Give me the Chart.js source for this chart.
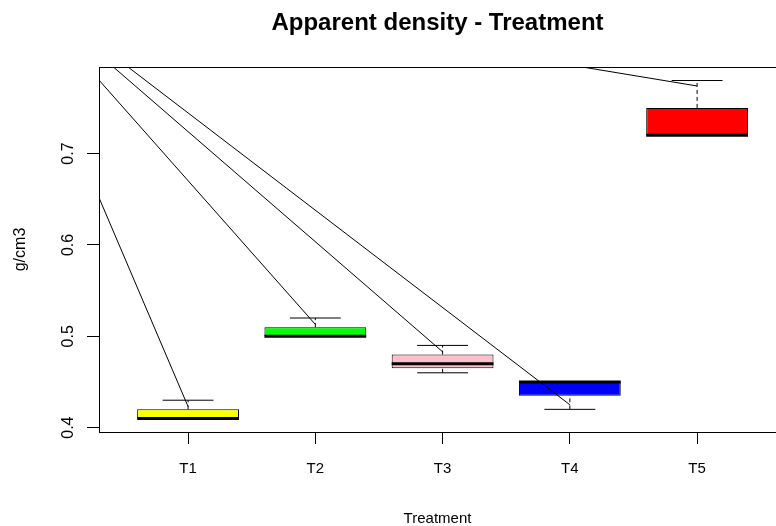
<!DOCTYPE html>
<html>
<head>
<meta charset="utf-8">
<script src="https://cdn.jsdelivr.net/npm/chart.js@4"></script>
<style>
  html, body { margin: 0; padding: 0; background: #ffffff; }
  #wrap { width: 776px; height: 526px; }
</style>
</head>
<body>
<div id="wrap"><canvas id="c" width="776" height="526" style="width:776px;height:526px"></canvas></div>
<script>
// ---- data ----
const categories     = ['T1', 'T2', 'T3', 'T4', 'T5'];
const lowerWhisker   = [0.41, 0.50, 0.46, 0.42, 0.72];
const lowerQuartile  = [0.41, 0.50, 0.465, 0.435, 0.72];
const medians        = [0.41, 0.50, 0.47, 0.45, 0.72];
const upperQuartile  = [0.42, 0.51, 0.48, 0.45, 0.75];
const upperWhisker   = [0.43, 0.52, 0.49, 0.45, 0.78];
const pointerEnds    = [0.423, 0.513, 0.483, 0.425, 0.774];
const pointerOriginX = -0.46;
const pointerOriginY = 0.90;
const yTickValues    = [0.4, 0.5, 0.6, 0.7];

// ---- styles ----
const boxColors = ['#FFFF00', '#00FF00', '#FFC0CB', '#0000FF', '#FF0000'];
const BOX_HALF = 0.4, CAP_HALF = 0.2;
const FONT = 'Liberation Sans, Arial, sans-serif';

const pos = categories.map((c, i) => i + 1);

const datasets = [];

// boxes (floating bars)
datasets.push({
  type: 'bar',
  data: pos.map((x, i) => ({ x: x, y: [lowerQuartile[i], upperQuartile[i]] })),
  backgroundColor: boxColors,
  borderColor: '#000000',
  borderWidth: 1,
  borderSkipped: false,
  categoryPercentage: 1.0,
  barPercentage: 0.8,
  order: 3
});

// whiskers (dashed) and caps
pos.forEach((x, i) => {
  if (upperWhisker[i] > upperQuartile[i]) {
    datasets.push({ type: 'line', data: [{x: x, y: upperQuartile[i]}, {x: x, y: upperWhisker[i]}],
      borderColor: '#000', borderWidth: 1, borderDash: [4, 3], pointRadius: 0, order: 4 });
    datasets.push({ type: 'line', data: [{x: x - CAP_HALF, y: upperWhisker[i]}, {x: x + CAP_HALF, y: upperWhisker[i]}],
      borderColor: '#000', borderWidth: 1, pointRadius: 0, order: 4 });
  }
  if (lowerWhisker[i] < lowerQuartile[i]) {
    datasets.push({ type: 'line', data: [{x: x, y: lowerWhisker[i]}, {x: x, y: lowerQuartile[i]}],
      borderColor: '#000', borderWidth: 1, borderDash: [4, 3], pointRadius: 0, order: 4 });
    datasets.push({ type: 'line', data: [{x: x - CAP_HALF, y: lowerWhisker[i]}, {x: x + CAP_HALF, y: lowerWhisker[i]}],
      borderColor: '#000', borderWidth: 1, pointRadius: 0, order: 4 });
  }
});

// medians
pos.forEach((x, i) => {
  datasets.push({ type: 'line', data: [{x: x - BOX_HALF, y: medians[i]}, {x: x + BOX_HALF, y: medians[i]}],
    borderColor: '#000', borderWidth: 3, borderCapStyle: 'butt', pointRadius: 0, order: 2 });
});

// pointer lines
pos.forEach((x, i) => {
  datasets.push({ type: 'line', data: [{x: pointerOriginX, y: pointerOriginY}, {x: x, y: pointerEnds[i]}],
    borderColor: '#000', borderWidth: 1, pointRadius: 0, order: 1 });
});

new Chart(document.getElementById('c'), {
  type: 'bar',
  data: { datasets: datasets },
  options: {
    responsive: false,
    devicePixelRatio: 1,
    animation: false,
    layout: { padding: 0 },
    plugins: {
      legend: { display: false },
      tooltip: { enabled: false },
      title: {
        display: true,
        text: 'Apparent density - Treatment',
        fullSize: false,
        color: '#000',
        font: { family: FONT, size: 24, weight: 'bold' },
        padding: { top: 9.2, bottom: 29 }
      }
    },
    scales: {
      x: {
        type: 'linear',
        position: 'bottom',
        min: 0.3, max: 5.62,
        offset: false,
        afterBuildTicks: s => { s.ticks = pos.map(v => ({ value: v })); },
        afterFit: s => { s.height = 94; },
        ticks: {
          callback: v => categories[Math.round(v) - 1],
          color: '#000', font: { family: FONT, size: 15 }, padding: 16,
          maxRotation: 0, minRotation: 0
        },
        grid: { display: true, drawOnChartArea: false, drawTicks: true, tickLength: 12, color: '#000', offset: false },
        border: { display: true, color: '#000', width: 1 },
        title: { display: true, text: 'Treatment', color: '#000', font: { family: FONT, size: 15, lineHeight: 1.0 }, padding: { top: 0, bottom: 0 } }
      },
      x2: {
        type: 'linear',
        axis: 'x',
        position: 'top',
        min: 0.3, max: 5.62,
        offset: false,
        afterFit: s => { s.height = 0; },
        ticks: { display: false },
        grid: { display: false, drawTicks: false },
        border: { display: true, color: '#000', width: 1 }
      },
      y: {
        type: 'linear',
        position: 'left',
        min: 0.3952, max: 0.7948,
        beginAtZero: false,
        afterBuildTicks: s => { s.ticks = yTickValues.map(v => ({ value: v })); },
        afterFit: s => { s.width = 99; },
        ticks: {
          callback: v => v.toFixed(1),
          color: '#000', font: { family: FONT, size: 16 }, padding: 7,
          minRotation: 90, maxRotation: 90, crossAlign: 'center'
        },
        grid: { display: true, drawOnChartArea: false, drawTicks: true, tickLength: 12, color: '#000' },
        border: { display: true, color: '#000', width: 1 },
        title: { display: true, text: 'g/cm3', color: '#000', font: { family: FONT, size: 16 }, padding: { top: 10.5, bottom: 0 } }
      }
    }
  }
});
</script>
</body>
</html>
